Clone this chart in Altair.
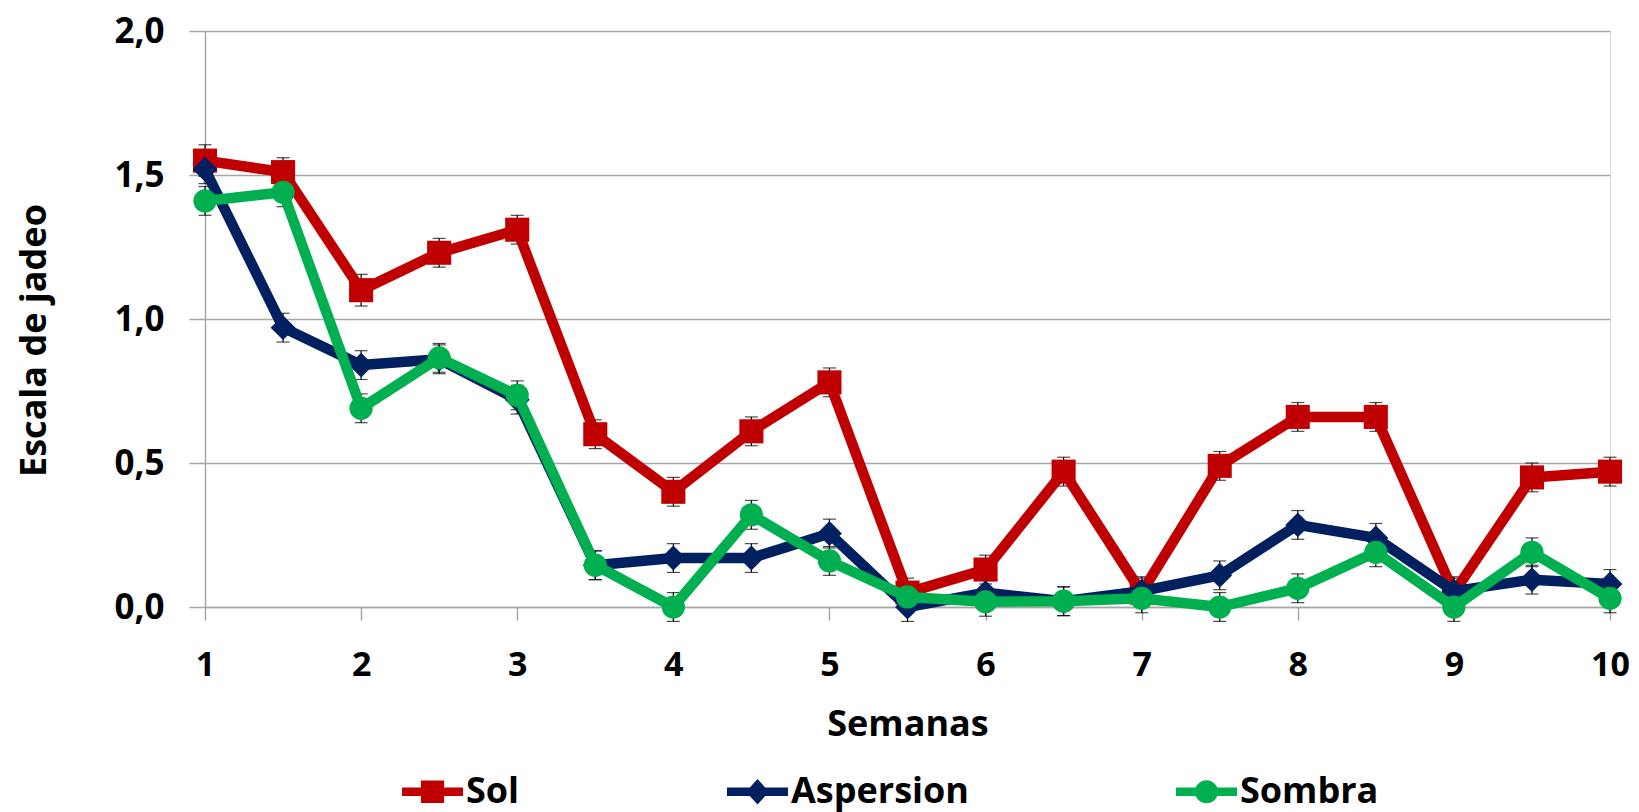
import altair as alt
import pandas as pd

semanas = [1, 1.5, 2, 2.5, 3, 3.5, 4, 4.5, 5, 5.5, 6, 6.5, 7, 7.5, 8, 8.5, 9, 9.5, 10]
series = ["Sol", "Aspersion", "Sombra"]
colores = ["#C00000", "#002060", "#00B050"]
formas = ["square", "diamond", "circle"]
tamanos = [580, 620, 540]

sol = [1.55, 1.51, 1.10, 1.23, 1.31, 0.60, 0.40, 0.61, 0.78, 0.05, 0.13, 0.47, 0.05, 0.49, 0.66, 0.66, 0.05, 0.45, 0.47]
aspersion = [1.52, 0.97, 0.84, 0.86, 0.72, 0.145, 0.17, 0.17, 0.255, 0.0, 0.05, 0.02, 0.055, 0.11, 0.285, 0.24, 0.055, 0.095, 0.08]
sombra = [1.41, 1.44, 0.69, 0.865, 0.735, 0.145, 0.0, 0.32, 0.16, 0.035, 0.018, 0.02, 0.03, 0.0, 0.065, 0.19, 0.0, 0.19, 0.03]

err_sol = [0.055, 0.05, 0.055, 0.05, 0.05, 0.05, 0.05, 0.05, 0.05, 0.05, 0.05, 0.05, 0.05, 0.05, 0.05, 0.05, 0.05, 0.05, 0.05]
err_aspersion = [0.05, 0.05, 0.05, 0.05, 0.05, 0.05, 0.05, 0.05, 0.05, 0.05, 0.05, 0.05, 0.05, 0.05, 0.05, 0.05, 0.05, 0.05, 0.05]
err_sombra = [0.05, 0.05, 0.05, 0.05, 0.05, 0.05, 0.05, 0.05, 0.05, 0.05, 0.05, 0.05, 0.05, 0.05, 0.05, 0.05, 0.05, 0.05, 0.05]

# legend symbols: line segment with the marker on top (unit box -1..1)
legend_paths = [
    "M-1,-0.14H1V0.14H-1Z M-0.38,-0.37H0.38V0.37H-0.38Z",
    "M-1,-0.14H1V0.14H-1Z M0,-0.42L0.38,0L0,0.42L-0.38,0Z",
    "M-1,-0.14H1V0.14H-1Z M-0.38,0A0.38,0.38 0 1,1 0.38,0A0.38,0.38 0 1,1 -0.38,0Z",
]

rows = []
for name, vals, errs in zip(series, [sol, aspersion, sombra], [err_sol, err_aspersion, err_sombra]):
    for s, v, e in zip(semanas, vals, errs):
        rows.append({"semana": s, "serie": name, "valor": v, "lo": v - e, "hi": v + e})
df = pd.DataFrame(rows)

FONT = "Open Sans"
GRAY = "#A6A6A6"

x_axis = alt.Axis(
    values=list(range(1, 11)), format="d", title="Semanas", grid=False,
    domainColor=GRAY, domainWidth=1.5, tickColor=GRAY, tickWidth=1.5, tickSize=13,
    labelFont=FONT, labelFontSize=34, labelFontWeight="bold", labelColor="black",
    labelBaseline="alphabetic", labelPadding=55, labelFlush=False, labelOverlap=False,
    titleFont=FONT, titleFontSize=36, titleFontWeight="bold", titleColor="black",
    titleBaseline="alphabetic", titleY=128,
)
y_axis = alt.Axis(
    values=[0, 0.5, 1.0, 1.5, 2.0],
    labelExpr="replace(format(datum.value, '.1f'), '.', ',')",
    title="Escala de jadeo", grid=True, gridColor=GRAY, gridWidth=1.5,
    domainColor=GRAY, domainWidth=1.5, tickColor=GRAY, tickWidth=1.5, tickSize=16,
    labelFont=FONT, labelFontSize=35, labelFontWeight="bold", labelColor="black",
    labelPadding=25, labelFlush=False, labelOverlap=False,
    titleFont=FONT, titleFontSize=36, titleFontWeight="bold", titleColor="black",
    titleAngle=270, titleBaseline="alphabetic", titleX=-160, titleY=309,
)

yscale = alt.Scale(domain=[0, 2], nice=False)
xs = alt.X("semana:Q", scale=alt.Scale(domain=[1, 10], nice=False, zero=False), axis=x_axis)
ys = alt.Y("valor:Q", scale=yscale, axis=y_axis)

base = alt.Chart(df)

err_rule = base.mark_rule(color="black", strokeWidth=1.2).encode(
    x=xs, y=alt.Y("lo:Q", scale=yscale, axis=y_axis), y2="hi:Q"
)
err_top = base.mark_tick(color="black", thickness=1.2, size=13, orient="horizontal").encode(
    x=xs, y=alt.Y("hi:Q", scale=yscale, axis=y_axis)
)
err_bot = base.mark_tick(color="black", thickness=1.2, size=13, orient="horizontal").encode(
    x=xs, y=alt.Y("lo:Q", scale=yscale, axis=y_axis)
)

layers = [err_rule, err_top, err_bot]
for name, col, shp, sz in zip(series, colores, formas, tamanos):
    sub = base.transform_filter(alt.datum.serie == name)
    line = sub.mark_line(color=col, strokeWidth=10.5, strokeJoin="round", strokeCap="round").encode(
        x=xs, y=ys
    )
    pts = sub.mark_point(color=col, filled=True, shape=shp, size=sz, opacity=1).encode(
        x=xs, y=ys
    )
    layers += [line, pts]

leg = alt.Legend(
    title=None, orient="none", legendX=197, legendY=730, direction="horizontal",
    columnPadding=207, labelOffset=3, symbolSize=3721, symbolStrokeWidth=0,
    symbolOpacity=1, labelFont=FONT, labelFontSize=36, labelFontWeight="bold",
    labelColor="black", padding=0, labelLimit=0,
)
legend_layer = base.mark_point(filled=True, opacity=0, size=10).encode(
    x=xs, y=ys,
    color=alt.Color("serie:N", scale=alt.Scale(domain=series, range=colores), legend=leg, sort=series),
    shape=alt.Shape("serie:N", scale=alt.Scale(domain=series, range=legend_paths), legend=leg, sort=series),
)
layers.append(legend_layer)

chart = alt.layer(*layers).properties(
    width=1405, height=576,
    padding={"left": 197, "top": 23, "right": 21, "bottom": 208},
    autosize=alt.AutoSizeParams(type="none"),
).configure_view(stroke=None).configure(background="white")

chart.save("out.html", embed_options={"renderer": "svg", "actions": False})
